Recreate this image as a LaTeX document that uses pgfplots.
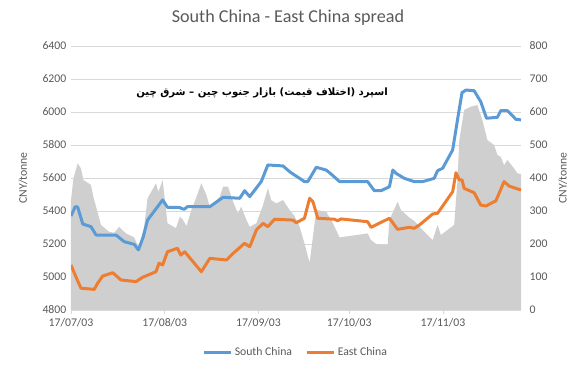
\documentclass[border=0pt]{standalone}
\usepackage{pgfplots}
\pgfplotsset{compat=1.18}
\usepackage{fontspec}
\setmainfont{Carlito}
\newfontfamily\persianfont[Script=Arabic]{DejaVu Sans}
\TeXXeTstate=1
\definecolor{scblue}{RGB}{91,155,213}
\definecolor{ecorange}{RGB}{237,125,49}
\definecolor{areagray}{RGB}{207,207,207}
\definecolor{gridgray}{RGB}{217,217,217}
\definecolor{txtgray}{RGB}{89,89,89}
\pgfplotsset{common/.style={
  scale only axis, width=337.5pt, height=198pt,
  at={(53.25pt,42pt)}, anchor=south west,
  xmin=0, xmax=148.8,
  xtick={0,31,62,92,123},
  xticklabels={17/07/03,17/08/03,17/09/03,17/10/03,17/11/03},
  tick label style={font=\fontsize{8.8}{10}\selectfont, text=txtgray},
  label style={font=\fontsize{8.8}{10}\selectfont, text=txtgray},
  /pgf/number format/assume math mode=true,
  /pgf/number format/1000 sep={},
  ytick style={draw=none},
  y axis line style={draw=none},
}}
\begin{document}
\begin{tikzpicture}
\useasboundingbox (0,0) rectangle (432pt,274.5pt);
\begin{axis}[common,
  axis x line*=bottom, axis y line*=right,
  x axis line style={draw=gridgray, line width=0.6pt},
  xtick style={draw=gridgray, line width=0.6pt},
  tick align=outside, major tick length=3pt,
  ymin=0, ymax=800, ytick={0,100,...,800},
  ymajorgrids, grid style={draw=gridgray, line width=0.6pt},
  ylabel={CNY/tonne},
  ylabel style={at={(axis description cs:1.093,0.5)}, anchor=center, rotate=0},
]
\addplot[fill=areagray, draw=none] table {
0 333
0.8 399
2.2 444
3.3 429
4.1 394
6.6 379
7.4 343
9.9 258
12.6 237
14.3 234
15.9 252
18.2 232
20.9 220
22.5 187
24.2 252
25.3 338
28.1 384
28.9 358
30.3 394
31.9 263
34.7 248
36 283
37 273
38.2 254
39.8 303
41.5 343
43.1 384
44.8 348
45.9 313
49.2 343
50.3 374
51.9 374
53.6 328
55.2 293
56.3 313
58 273
59.1 252
61.3 263
63.5 318
65.1 369
66.2 333
67.9 323
70.1 333
72.3 303
73.9 285
75.6 252
77.2 202
78.9 143
80 222
81.1 303
84.4 298
86.6 263
88.8 220
98.1 232
99.2 212
100.9 200
104.7 197
105.3 273
108 328
109.1 303
111.9 280
113.5 270
116.3 242
119.6 212
121.2 258
122.3 227
126.7 258
127.8 394
128.4 515
130 606
132.2 616
134.4 621
136 576
137.7 515
139.9 500
141 470
142.1 464
143.2 439
144.3 455
146.5 429
147.6 414
148.8 412
} \closedcycle;
\end{axis}
\begin{axis}[common,
  axis x line=none, axis y line*=left,
  ymin=4800, ymax=6400, ytick={4800,5000,...,6400},
  ylabel={CNY/tonne},
  ylabel style={at={(axis description cs:-0.1067,0.5)}, anchor=center},
  legend style={at={(0.5,-0.162)}, anchor=center, draw=none, fill=none,
    legend columns=2, font=\fontsize{8.8}{10}\selectfont, text=txtgray,
    /tikz/every even column/.append style={column sep=8pt}},
  legend image code/.code={\draw[#1, line width=2.25pt] (0pt,0pt) -- (20pt,0pt);},
]
\addplot[scblue, line width=2.25pt, line join=round] table {
0 5370
1.4 5426
2.2 5424
3.9 5321
6.6 5305
8.3 5254
14.9 5254
17.6 5214
20.9 5198
22.3 5164
23.9 5244
25.3 5345
30.3 5467
31.9 5422
35.7 5422
37.4 5410
38.5 5426
45.9 5426
50.3 5483
55.8 5477
57.4 5523
59.1 5487
62.9 5578
65.1 5679
70.1 5673
72.3 5638
73.9 5618
75.6 5598
77.2 5578
78.3 5578
81.1 5665
84.4 5648
86 5624
88.8 5578
98.1 5578
100.3 5523
102.5 5523
105.3 5547
106.4 5648
107.5 5628
110.2 5598
113.5 5578
116.3 5578
120.1 5598
121.2 5644
122.9 5659
126.2 5770
127.8 5952
129.3 6117
130.6 6133
133.3 6129
135.5 6062
137.4 5962
141 5968
142.1 6008
144.3 6008
147.1 5956
148.8 5952
};
\addlegendentry{South China}
\addplot[ecorange, line width=2.25pt, line join=round] table {
0 5073
1.6 5002
3.3 4932
7.7 4925
8.8 4962
10.5 5006
13.8 5026
16.5 4982
21.5 4972
23.7 4998
28.1 5032
29.1 5083
30.3 5073
31.9 5153
35.2 5174
36.3 5133
37.6 5153
43.1 5032
45.9 5113
51.4 5103
53.6 5143
57.4 5204
59.1 5183
61.3 5285
63.5 5325
65.1 5305
67.3 5350
73.4 5345
74.5 5329
77.2 5356
78.9 5477
80 5456
81.6 5356
87.1 5350
88.2 5341
89.3 5352
98.1 5335
99.2 5301
105.3 5356
108 5289
111.9 5301
113.5 5295
115.2 5315
119.6 5382
121.2 5386
122.9 5430
126.2 5517
127.3 5632
128.4 5588
129.3 5588
130 5537
133.3 5511
135.5 5436
137.2 5430
140.5 5462
143.2 5578
144.9 5551
148.8 5527
};
\addlegendentry{East China}
\end{axis}
\node[font=\fontsize{13.6}{16}\selectfont, text=txtgray] at (216pt,261pt) {South China - East China spread};
\node[font=\persianfont\bfseries\fontsize{7.6}{10}\selectfont, text=black] at (196.5pt,204.75pt) {\beginR اسپرد (اختلاف قیمت) بازار جنوب چین – شرق چین\endR};
\end{tikzpicture}
\end{document}
